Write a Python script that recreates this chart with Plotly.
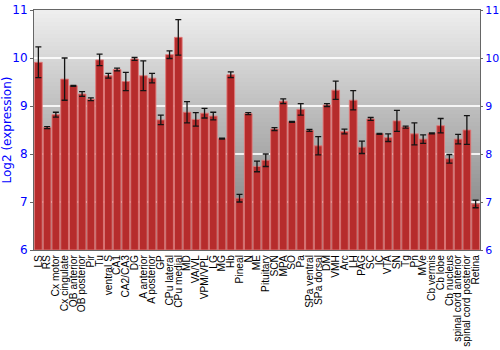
import plotly.graph_objects as go

regions = ["LS", "RS", "Cx motor", "Cx cingulate", "OB anterior", "OB posterior", "Pir", "Tu",
           "ventral S", "CA1", "CA2/CA3", "DG", "A anterior", "A posterior", "GP", "CPu lateral",
           "CPu medial", "MD", "VA/VL", "VPM/VPL", "LG", "MG", "Hb", "Pineal", "N", "ME",
           "Pituitary", "SCN", "MPA", "SO", "Pa", "SPa ventral", "SPa dorsal", "DM", "VMH", "Arc",
           "LH", "PAG", "SC", "IC", "VTA", "SN", "Tg", "Pn", "MVe", "Cb vermis", "Cb lobe",
           "Cb nucleus", "spinal cord anterior", "spinal cord posterior", "Retina"]

expression = [9.91, 8.55, 8.82, 9.56, 9.42, 9.25, 9.14, 9.96,
              9.63, 9.76, 9.51, 9.98, 9.63, 9.58, 8.71, 10.07,
              10.43, 8.87, 8.72, 8.85, 8.79, 8.32, 9.65, 7.08, 8.84, 7.74,
              7.87, 8.52, 9.10, 8.67, 8.93, 8.49, 8.17, 9.02, 9.33, 8.47,
              9.12, 8.14, 8.73, 8.42, 8.34, 8.69, 8.56, 8.42, 8.31, 8.43, 8.59,
              7.90, 8.31, 8.50, 6.96]

error = [0.32, 0.02, 0.05, 0.44, 0.01, 0.05, 0.03, 0.12,
         0.05, 0.03, 0.19, 0.03, 0.31, 0.10, 0.10, 0.08,
         0.37, 0.22, 0.14, 0.10, 0.08, 0.01, 0.06, 0.08, 0.02, 0.11,
         0.13, 0.03, 0.05, 0.01, 0.12, 0.02, 0.19, 0.03, 0.19, 0.05,
         0.20, 0.13, 0.03, 0.01, 0.08, 0.22, 0.02, 0.23, 0.09, 0.01, 0.15,
         0.09, 0.10, 0.30, 0.08]

y_ticks = [6, 7, 8, 9, 10, 11]
y_range = [6, 11]

fig = go.Figure()

fig.add_trace(go.Bar(
    x=regions, y=[v - y_range[0] for v in expression], base=y_range[0],
    marker=dict(color="rgb(182,44,44)", line=dict(color="rgba(225,120,120,0.9)", width=1)),
    error_y=dict(type="data", array=error, color="rgb(20,20,20)", thickness=1.3, width=3),
    showlegend=False,
))
# invisible trace to show the right-hand axis
fig.add_trace(go.Scatter(x=[regions[0]], y=[y_range[0]], yaxis="y2", mode="markers",
                         marker=dict(opacity=0), showlegend=False, hoverinfo="skip"))

# vertical gradient background
n = 60
shapes = []
for i in range(n):
    t = i / (n - 1)
    c = int(238 - t * (238 - 122))
    shapes.append(dict(type="rect", xref="paper", yref="paper", x0=0, x1=1,
                       y0=1 - (i + 1) / n, y1=1 - i / n, layer="below",
                       fillcolor=f"rgb({c},{c},{c})", line=dict(width=0)))

axis_font = dict(family="DejaVu Sans, Verdana, sans-serif", size=12, color="#0000ff")
axis_font_r = dict(family="DejaVu Sans, Verdana, sans-serif", size=11, color="#0000ff")

fig.update_layout(
    width=500, height=350,
    margin=dict(l=34, r=20, t=10, b=100, autoexpand=False),
    paper_bgcolor="white", plot_bgcolor="rgba(0,0,0,0)",
    bargap=0.12,
    shapes=shapes,
    font=dict(family="Liberation Sans, Arial, sans-serif"),
    xaxis=dict(tickangle=-90, tickmode="array", tickvals=regions, ticktext=regions,
               tickfont=dict(size=10.2, color="black", family="Liberation Sans, Arial, sans-serif"),
               showgrid=False, showline=True, linecolor="#666", mirror=True, automargin=False,
               ticks="", range=[-0.5, len(regions) - 0.5]),
    yaxis=dict(range=y_range, tickvals=y_ticks, tickfont=axis_font, automargin=False,
               title=dict(text="Log2 (expression)",
                          font=dict(size=12, color="#0000ff", family="DejaVu Sans, Verdana, sans-serif"),
                          standoff=4),
               showgrid=True, gridcolor="rgba(255,255,255,0.85)", gridwidth=1.5,
               showline=True, linecolor="#666", ticks="outside", ticklen=3, tickcolor="#666",
               zeroline=False),
    yaxis2=dict(range=y_range, tickvals=y_ticks, tickfont=axis_font_r, overlaying="y",
                side="right", showgrid=False, showline=True, linecolor="#666", automargin=False,
                ticks="outside", ticklen=2, tickcolor="#666", zeroline=False),
)

fig.write_html("out.html")
